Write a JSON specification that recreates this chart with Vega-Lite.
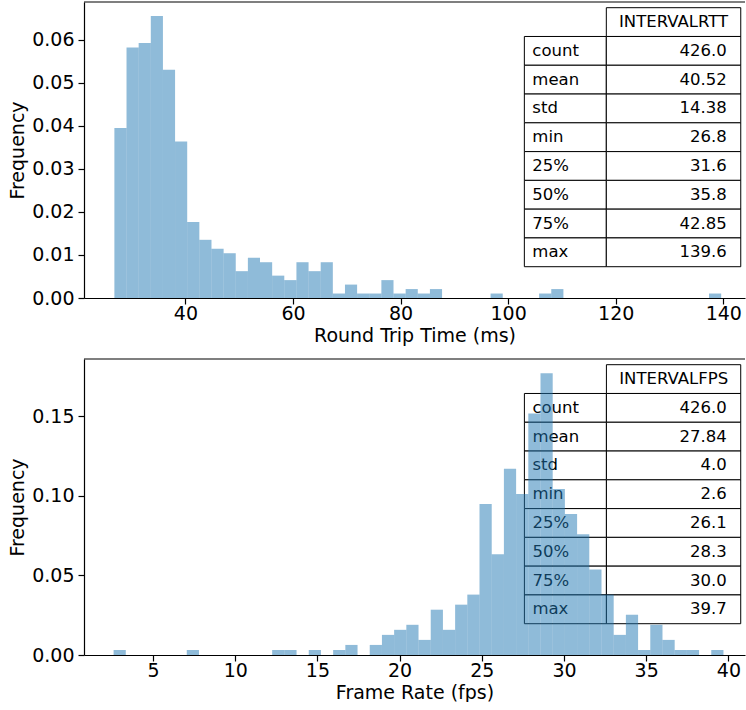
{
  "$schema": "https://vega.github.io/schema/vega-lite/v6.json",
  "padding": {"left": 8, "top": 1, "right": 0, "bottom": 0},
  "spacing": 13,
  "config": {
    "view": {"stroke": null},
    "axis": {
      "labelFont": "DejaVu Sans", "titleFont": "DejaVu Sans",
      "labelFontSize": 19, "titleFontSize": 19, "titleFontWeight": "normal",
      "labelColor": "#000", "titleColor": "#000",
      "domainColor": "#000", "tickColor": "#000",
      "domainWidth": 1.2, "tickWidth": 1.2, "tickSize": 6,
      "labelPadding": 4, "grid": false
    },
    "axisY": {"minExtent": 52, "maxExtent": 52, "titlePadding": 5},
    "axisX": {"titlePadding": 3, "labelPadding": 0}
  },
  "datasets": {
    "rtt_bins": [
      {"bin_start": 26.8, "bin_end": 29.056, "frequency": 0.03954},
      {"bin_start": 29.056, "bin_end": 31.312, "frequency": 0.05827},
      {"bin_start": 31.312, "bin_end": 33.568, "frequency": 0.05931},
      {"bin_start": 33.568, "bin_end": 35.824, "frequency": 0.06555},
      {"bin_start": 35.824, "bin_end": 38.08, "frequency": 0.05307},
      {"bin_start": 38.08, "bin_end": 40.336, "frequency": 0.03642},
      {"bin_start": 40.336, "bin_end": 42.592, "frequency": 0.01769},
      {"bin_start": 42.592, "bin_end": 44.848, "frequency": 0.01353},
      {"bin_start": 44.848, "bin_end": 47.104, "frequency": 0.01145},
      {"bin_start": 47.104, "bin_end": 49.36, "frequency": 0.01041},
      {"bin_start": 49.36, "bin_end": 51.616, "frequency": 0.00624},
      {"bin_start": 51.616, "bin_end": 53.872, "frequency": 0.00936},
      {"bin_start": 53.872, "bin_end": 56.128, "frequency": 0.00832},
      {"bin_start": 56.128, "bin_end": 58.384, "frequency": 0.0052},
      {"bin_start": 58.384, "bin_end": 60.64, "frequency": 0.00416},
      {"bin_start": 60.64, "bin_end": 62.896, "frequency": 0.00832},
      {"bin_start": 62.896, "bin_end": 65.152, "frequency": 0.00624},
      {"bin_start": 65.152, "bin_end": 67.408, "frequency": 0.00832},
      {"bin_start": 67.408, "bin_end": 69.664, "frequency": 0.00104},
      {"bin_start": 69.664, "bin_end": 71.92, "frequency": 0.00312},
      {"bin_start": 71.92, "bin_end": 74.176, "frequency": 0.00104},
      {"bin_start": 74.176, "bin_end": 76.432, "frequency": 0.00104},
      {"bin_start": 76.432, "bin_end": 78.688, "frequency": 0.00416},
      {"bin_start": 78.688, "bin_end": 80.944, "frequency": 0.00104},
      {"bin_start": 80.944, "bin_end": 83.2, "frequency": 0.00208},
      {"bin_start": 83.2, "bin_end": 85.456, "frequency": 0.00104},
      {"bin_start": 85.456, "bin_end": 87.712, "frequency": 0.00208},
      {"bin_start": 96.736, "bin_end": 98.992, "frequency": 0.00104},
      {"bin_start": 105.76, "bin_end": 108.016, "frequency": 0.00104},
      {"bin_start": 108.016, "bin_end": 110.272, "frequency": 0.00208},
      {"bin_start": 137.344, "bin_end": 139.6, "frequency": 0.00104}
    ],
    "rtt_table": [
      {"row": "header", "label": "", "value": "INTERVALRTT"},
      {"row": "count", "label": "count", "value": "426.0"},
      {"row": "mean", "label": "mean", "value": "40.52"},
      {"row": "std", "label": "std", "value": "14.38"},
      {"row": "min", "label": "min", "value": "26.8"},
      {"row": "25%", "label": "25%", "value": "31.6"},
      {"row": "50%", "label": "50%", "value": "35.8"},
      {"row": "75%", "label": "75%", "value": "42.85"},
      {"row": "max", "label": "max", "value": "139.6"}
    ],
    "fps_bins": [
      {"bin_start": 2.6, "bin_end": 3.342, "frequency": 0.00316},
      {"bin_start": 7.052, "bin_end": 7.794, "frequency": 0.00316},
      {"bin_start": 12.246, "bin_end": 12.988, "frequency": 0.00316},
      {"bin_start": 12.988, "bin_end": 13.73, "frequency": 0.00316},
      {"bin_start": 14.472, "bin_end": 15.214, "frequency": 0.00316},
      {"bin_start": 15.956, "bin_end": 16.698, "frequency": 0.00316},
      {"bin_start": 16.698, "bin_end": 17.44, "frequency": 0.00633},
      {"bin_start": 18.182, "bin_end": 18.924, "frequency": 0.00633},
      {"bin_start": 18.924, "bin_end": 19.666, "frequency": 0.01265},
      {"bin_start": 19.666, "bin_end": 20.408, "frequency": 0.01582},
      {"bin_start": 20.408, "bin_end": 21.15, "frequency": 0.01898},
      {"bin_start": 21.15, "bin_end": 21.892, "frequency": 0.00949},
      {"bin_start": 21.892, "bin_end": 22.634, "frequency": 0.02847},
      {"bin_start": 22.634, "bin_end": 23.376, "frequency": 0.01582},
      {"bin_start": 23.376, "bin_end": 24.118, "frequency": 0.03164},
      {"bin_start": 24.118, "bin_end": 24.86, "frequency": 0.03796},
      {"bin_start": 24.86, "bin_end": 25.602, "frequency": 0.09491},
      {"bin_start": 25.602, "bin_end": 26.344, "frequency": 0.06327},
      {"bin_start": 26.344, "bin_end": 27.086, "frequency": 0.11705},
      {"bin_start": 27.086, "bin_end": 27.828, "frequency": 0.10124},
      {"bin_start": 27.828, "bin_end": 28.57, "frequency": 0.15185},
      {"bin_start": 28.57, "bin_end": 29.312, "frequency": 0.17716},
      {"bin_start": 29.312, "bin_end": 30.054, "frequency": 0.1044},
      {"bin_start": 30.054, "bin_end": 30.796, "frequency": 0.08858},
      {"bin_start": 30.796, "bin_end": 31.538, "frequency": 0.07593},
      {"bin_start": 31.538, "bin_end": 32.28, "frequency": 0.05378},
      {"bin_start": 32.28, "bin_end": 33.022, "frequency": 0.03796},
      {"bin_start": 33.022, "bin_end": 33.764, "frequency": 0.01265},
      {"bin_start": 33.764, "bin_end": 34.506, "frequency": 0.02531},
      {"bin_start": 34.506, "bin_end": 35.248, "frequency": 0.00316},
      {"bin_start": 35.248, "bin_end": 35.99, "frequency": 0.01898},
      {"bin_start": 35.99, "bin_end": 36.732, "frequency": 0.00949},
      {"bin_start": 36.732, "bin_end": 37.474, "frequency": 0.00316},
      {"bin_start": 37.474, "bin_end": 38.216, "frequency": 0.00316},
      {"bin_start": 38.958, "bin_end": 39.7, "frequency": 0.00316}
    ],
    "fps_table": [
      {"row": "header", "label": "", "value": "INTERVALFPS"},
      {"row": "count", "label": "count", "value": "426.0"},
      {"row": "mean", "label": "mean", "value": "27.84"},
      {"row": "std", "label": "std", "value": "4.0"},
      {"row": "min", "label": "min", "value": "2.6"},
      {"row": "25%", "label": "25%", "value": "26.1"},
      {"row": "50%", "label": "50%", "value": "28.3"},
      {"row": "75%", "label": "75%", "value": "30.0"},
      {"row": "max", "label": "max", "value": "39.7"}
    ]
  },
  "vconcat": [
    {
      "width": 661,
      "height": 296,
      "resolve": {"scale": {"y": "independent"}},
      "layer": [
        {
          "data": {"name": "rtt_table"},
          "transform": [{"filter": "datum.row !== 'header'"}],
          "mark": {"type": "rect", "fill": "#ffffff", "stroke": "#000", "strokeWidth": 1},
          "encoding": {
            "x": {"datum": 103.01, "type": "quantitative"},
            "x2": {"datum": 118.25},
            "y": {"field": "row", "type": "nominal", "axis": null,
                  "scale": {"type": "band", "domain": ["header","count","mean","std","min","25%","50%","75%","max"], "paddingInner": 0, "paddingOuter": 0.6425, "align": 0.154}}
          }
        },
        {
          "data": {"name": "rtt_table"},
          "mark": {"type": "rect", "fill": "#ffffff", "stroke": "#000", "strokeWidth": 1},
          "encoding": {
            "x": {"datum": 118.25, "type": "quantitative"},
            "x2": {"datum": 143.24},
            "y": {"field": "row", "type": "nominal", "axis": null,
                  "scale": {"type": "band", "domain": ["header","count","mean","std","min","25%","50%","75%","max"], "paddingInner": 0, "paddingOuter": 0.6425, "align": 0.154}}
          }
        },
        {
          "data": {"name": "rtt_table"},
          "transform": [{"filter": "datum.row !== 'header'"}],
          "mark": {"type": "text", "align": "left", "baseline": "middle", "dx": 8, "font": "DejaVu Sans", "fontSize": 16.5, "color": "#000"},
          "encoding": {
            "x": {"datum": 103.01, "type": "quantitative"},
            "y": {"field": "row", "type": "nominal", "axis": null, "bandPosition": 0.5,
                  "scale": {"type": "band", "domain": ["header","count","mean","std","min","25%","50%","75%","max"], "paddingInner": 0, "paddingOuter": 0.6425, "align": 0.154}},
            "text": {"field": "label"}
          }
        },
        {
          "data": {"name": "rtt_table"},
          "transform": [{"filter": "datum.row !== 'header'"}],
          "mark": {"type": "text", "align": "right", "baseline": "middle", "dx": -14, "font": "DejaVu Sans", "fontSize": 16.5, "color": "#000"},
          "encoding": {
            "x": {"datum": 143.24, "type": "quantitative"},
            "y": {"field": "row", "type": "nominal", "axis": null, "bandPosition": 0.5,
                  "scale": {"type": "band", "domain": ["header","count","mean","std","min","25%","50%","75%","max"], "paddingInner": 0, "paddingOuter": 0.6425, "align": 0.154}},
            "text": {"field": "value"}
          }
        },
        {
          "data": {"name": "rtt_table"},
          "transform": [{"filter": "datum.row === 'header'"}],
          "mark": {"type": "text", "align": "center", "baseline": "middle", "font": "DejaVu Sans", "fontSize": 16.5, "color": "#000"},
          "encoding": {
            "x": {"datum": 130.75, "type": "quantitative"},
            "y": {"field": "row", "type": "nominal", "axis": null, "bandPosition": 0.5,
                  "scale": {"type": "band", "domain": ["header","count","mean","std","min","25%","50%","75%","max"], "paddingInner": 0, "paddingOuter": 0.6425, "align": 0.154}},
            "text": {"field": "value"}
          }
        },
        {
          "data": {"name": "rtt_bins"},
          "mark": {"type": "rect", "color": "#1f77b4", "opacity": 0.5},
          "encoding": {
            "x": {"field": "bin_start", "type": "quantitative",
                  "scale": {"domain": [21.15, 144.03], "nice": false, "zero": false},
                  "axis": {"values": [40, 60, 80, 100, 120, 140], "format": "d", "title": "Round Trip Time (ms)"}},
            "x2": {"field": "bin_end"},
            "y": {"field": "frequency", "type": "quantitative",
                  "scale": {"domain": [0, 0.06883], "nice": false},
                  "axis": {"values": [0, 0.01, 0.02, 0.03, 0.04, 0.05, 0.06], "format": ".2f", "title": "Frequency"}},
            "y2": {"datum": 0}
          }
        },
        {
          "data": {"values": [{}]},
          "mark": {"type": "rule", "color": "#000", "strokeWidth": 1.2},
          "encoding": {
            "y": {"datum": 0.06883, "type": "quantitative", "axis": null,
                  "scale": {"domain": [0, 0.06883], "nice": false}}
          }
        }
      ]
    },
    {
      "width": 661,
      "height": 296,
      "resolve": {"scale": {"y": "independent"}},
      "layer": [
        {
          "data": {"name": "fps_table"},
          "transform": [{"filter": "datum.row !== 'header'"}],
          "mark": {"type": "rect", "fill": "#ffffff", "stroke": "#000", "strokeWidth": 1},
          "encoding": {
            "x": {"datum": 27.59, "type": "quantitative"},
            "x2": {"datum": 32.58},
            "y": {"field": "row", "type": "nominal", "axis": null,
                  "scale": {"type": "band", "domain": ["header","count","mean","std","min","25%","50%","75%","max"], "paddingInner": 0, "paddingOuter": 0.6425, "align": 0.154}}
          }
        },
        {
          "data": {"name": "fps_table"},
          "mark": {"type": "rect", "fill": "#ffffff", "stroke": "#000", "strokeWidth": 1},
          "encoding": {
            "x": {"datum": 32.58, "type": "quantitative"},
            "x2": {"datum": 40.75},
            "y": {"field": "row", "type": "nominal", "axis": null,
                  "scale": {"type": "band", "domain": ["header","count","mean","std","min","25%","50%","75%","max"], "paddingInner": 0, "paddingOuter": 0.6425, "align": 0.154}}
          }
        },
        {
          "data": {"name": "fps_table"},
          "transform": [{"filter": "datum.row !== 'header'"}],
          "mark": {"type": "text", "align": "left", "baseline": "middle", "dx": 8, "font": "DejaVu Sans", "fontSize": 16.5, "color": "#000"},
          "encoding": {
            "x": {"datum": 27.59, "type": "quantitative"},
            "y": {"field": "row", "type": "nominal", "axis": null, "bandPosition": 0.5,
                  "scale": {"type": "band", "domain": ["header","count","mean","std","min","25%","50%","75%","max"], "paddingInner": 0, "paddingOuter": 0.6425, "align": 0.154}},
            "text": {"field": "label"}
          }
        },
        {
          "data": {"name": "fps_table"},
          "transform": [{"filter": "datum.row !== 'header'"}],
          "mark": {"type": "text", "align": "right", "baseline": "middle", "dx": -14, "font": "DejaVu Sans", "fontSize": 16.5, "color": "#000"},
          "encoding": {
            "x": {"datum": 40.75, "type": "quantitative"},
            "y": {"field": "row", "type": "nominal", "axis": null, "bandPosition": 0.5,
                  "scale": {"type": "band", "domain": ["header","count","mean","std","min","25%","50%","75%","max"], "paddingInner": 0, "paddingOuter": 0.6425, "align": 0.154}},
            "text": {"field": "value"}
          }
        },
        {
          "data": {"name": "fps_table"},
          "transform": [{"filter": "datum.row === 'header'"}],
          "mark": {"type": "text", "align": "center", "baseline": "middle", "font": "DejaVu Sans", "fontSize": 16.5, "color": "#000"},
          "encoding": {
            "x": {"datum": 36.67, "type": "quantitative"},
            "y": {"field": "row", "type": "nominal", "axis": null, "bandPosition": 0.5,
                  "scale": {"type": "band", "domain": ["header","count","mean","std","min","25%","50%","75%","max"], "paddingInner": 0, "paddingOuter": 0.6425, "align": 0.154}},
            "text": {"field": "value"}
          }
        },
        {
          "data": {"name": "fps_bins"},
          "mark": {"type": "rect", "color": "#1f77b4", "opacity": 0.5},
          "encoding": {
            "x": {"field": "bin_start", "type": "quantitative",
                  "scale": {"domain": [0.8, 41.01], "nice": false, "zero": false},
                  "axis": {"values": [5, 10, 15, 20, 25, 30, 35, 40], "format": "d", "title": "Frame Rate (fps)"}},
            "x2": {"field": "bin_end"},
            "y": {"field": "frequency", "type": "quantitative",
                  "scale": {"domain": [0, 0.18604], "nice": false},
                  "axis": {"values": [0, 0.05, 0.1, 0.15], "format": ".2f", "title": "Frequency"}},
            "y2": {"datum": 0}
          }
        },
        {
          "data": {"values": [{}]},
          "mark": {"type": "rule", "color": "#000", "strokeWidth": 1.2},
          "encoding": {
            "y": {"datum": 0.18604, "type": "quantitative", "axis": null,
                  "scale": {"domain": [0, 0.18604], "nice": false}}
          }
        }
      ]
    }
  ]
}
